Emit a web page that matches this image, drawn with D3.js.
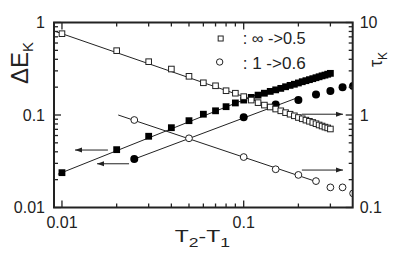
<!DOCTYPE html>
<html>
<head>
<meta charset="utf-8">
<script src="https://cdn.jsdelivr.net/npm/d3@7"></script>
<style>
  body { margin: 0; background: #fff; }
  svg { display: block; font-family: "Liberation Sans", Arial, sans-serif; }
</style>
</head>
<body>
<svg id="chart" width="409" height="260"></svg>
<script>
// T2-T1 values for the dense runs (squares) and the sparse runs (circles)
var tSquares = [0.01, 0.02, 0.03, 0.04, 0.05, 0.06, 0.07, 0.08, 0.09, 0.10, 0.11, 0.12,
    0.13, 0.14, 0.15, 0.16, 0.17, 0.18, 0.19, 0.20, 0.21, 0.22, 0.23, 0.24, 0.25,
    0.26, 0.27, 0.28, 0.29, 0.30];
var tCircles = [0.025, 0.05, 0.1, 0.15, 0.2, 0.25, 0.3, 0.35, 0.4];
var tCirclesFilled = [0.025, 0.1, 0.15, 0.2, 0.25, 0.3, 0.35, 0.4];

// tau_K (right axis), open squares  : inf -> 0.5
var tauSquares = [7.57, 4.96, 3.77, 3.14, 2.62, 2.23, 2.07, 1.83, 1.72, 1.58, 1.45, 1.36,
    1.28, 1.22, 1.16, 1.11, 1.06, 1.02, 0.98, 0.94, 0.91, 0.88, 0.855, 0.83, 0.805,
    0.78, 0.76, 0.74, 0.725, 0.706];
// delta E_K (left axis), filled squares
var dESquares = [0.0238, 0.0422, 0.0589, 0.0729, 0.0868, 0.102, 0.111, 0.123, 0.135, 0.145, 0.155, 0.164,
    0.172, 0.180, 0.187, 0.194, 0.202, 0.209, 0.215, 0.222, 0.229, 0.235, 0.241, 0.247, 0.253,
    0.259, 0.265, 0.270, 0.276, 0.282];
// tau_K (right axis), open circles  : 1 -> 0.6
var tauCircles = [0.883, 0.56, 0.351, 0.259, 0.225, 0.193, 0.165, 0.165, 0.142];
// delta E_K (left axis), filled circles
var dECircles = [0.0334, 0.0944, 0.13, 0.145, 0.167, 0.182, 0.2, 0.206];

// power-law fit lines: [t, value] end points
var fitTauSquares = [[0.009, 8.13], [0.15, 1.20]];
var fitDESquares = [[0.0095, 0.0229], [0.12, 0.168]];
var fitTauCircles = [[0.0204, 1.0], [0.25, 0.191]];
var fitDECircles = [[0.025, 0.0334], [0.2, 0.155]];

// arrows: t from, t to, value, axis
var arrows = [
    {t0: 0.0179, t1: 0.0118, v: 0.0418, axis: "left"},
    {t0: 0.0234, t1: 0.0156, v: 0.0297, axis: "left"},
    {t0: 0.209, t1: 0.352, v: 1.02, axis: "right"},
    {t0: 0.209, t1: 0.352, v: 0.254, axis: "right"}
];

var xTickLabels = ["0.01", "0.1"];
var leftTickLabels = ["0.01", "0.1", "1"];
var rightTickLabels = ["0.1", "1", "10"];
var legendLabels = [": \u221E ->0.5", ": 1 ->0.6"];

var svg = d3.select("#chart");
const margin = {top: 22.5, right: 56.3, bottom: 52.5, left: 54};
const width = 409 - margin.left - margin.right;
const height = 260 - margin.top - margin.bottom;
const ink = "#222";

var x = d3.scaleLog().domain([0.00904, 0.398]).range([0, width]);
var yL = d3.scaleLog().domain([0.01, 1]).range([height, 0]);
var yR = d3.scaleLog().domain([0.1, 10]).range([height, 0]);

var g = svg.append("g").attr("transform", "translate(" + margin.left + "," + margin.top + ")");

svg.append("defs").append("clipPath").attr("id", "plotclip")
    .append("rect").attr("width", width).attr("height", height);
svg.select("defs").append("marker")
    .attr("id", "head").attr("viewBox", "0 0 10 10")
    .attr("refX", 10).attr("refY", 5)
    .attr("markerWidth", 7).attr("markerHeight", 7)
    .attr("markerUnits", "userSpaceOnUse")
    .attr("orient", "auto")
    .append("path").attr("d", "M0,1.5L10,5L0,8.5Z").attr("fill", ink);

var plot = g.append("g").attr("clip-path", "url(#plotclip)");

function minors(lo, hi) {
    var out = [];
    for (var e = lo; e < hi; e++) {
        for (var k = 1; k < 10; k++) out.push(k * Math.pow(10, e));
    }
    return out;
}

// axes: all ticks point inward
var xt = minors(-2, 0).filter(function(v) { return v >= 0.00904 && v <= 0.398; });
var yLt = minors(-2, 0).concat([1]);
var yRt = minors(-1, 1).concat([10]);
function isMajor(v) { return Math.abs(Math.log10(v) - Math.round(Math.log10(v))) < 1e-6; }

var ticks = g.append("g").attr("stroke", ink).attr("stroke-width", 1.3);
ticks.selectAll(".xb").data(xt).enter().append("line")
    .attr("x1", function(d) { return x(d); }).attr("x2", function(d) { return x(d); })
    .attr("y1", height).attr("y2", function(d) { return height - (isMajor(d) ? 7 : 4); });
ticks.selectAll(".xt").data(xt).enter().append("line")
    .attr("x1", function(d) { return x(d); }).attr("x2", function(d) { return x(d); })
    .attr("y1", 0).attr("y2", function(d) { return isMajor(d) ? 7 : 4; });
ticks.selectAll(".yl").data(yLt).enter().append("line")
    .attr("y1", function(d) { return yL(d); }).attr("y2", function(d) { return yL(d); })
    .attr("x1", 0).attr("x2", function(d) { return isMajor(d) ? 7 : 4; });
ticks.selectAll(".yr").data(yRt).enter().append("line")
    .attr("y1", function(d) { return yR(d); }).attr("y2", function(d) { return yR(d); })
    .attr("x1", width).attr("x2", function(d) { return width - (isMajor(d) ? 7 : 4); });

g.append("rect").attr("width", width).attr("height", height)
    .attr("fill", "none").attr("stroke", ink).attr("stroke-width", 2);

var labels = g.append("g").attr("fill", ink).attr("font-size", 16);
labels.selectAll(".xl").data(xTickLabels).enter().append("text")
    .attr("x", function(d) { return x(+d); }).attr("y", height + 20.5)
    .attr("text-anchor", "middle").text(function(d) { return d; });
labels.selectAll(".yll").data(leftTickLabels).enter().append("text")
    .attr("x", -9).attr("y", function(d) { return yL(+d); }).attr("dy", "0.36em")
    .attr("text-anchor", "end").text(function(d) { return d; });
labels.selectAll(".yrl").data(rightTickLabels).enter().append("text")
    .attr("x", 7).attr("y", function(d) { return yR(+d); }).attr("dy", "0.36em")
    .attr("transform", "translate(" + width + ",0)")
    .attr("text-anchor", "start").text(function(d) { return d; });

// axis titles
var xTitle = g.append("text")
    .attr("transform", "translate(" + (width / 2 - 1) + "," + (height + 34.5) + ") scale(1.35,1)")
    .attr("text-anchor", "middle").attr("font-size", 17).attr("fill", ink);
xTitle.append("tspan").text("T");
xTitle.append("tspan").attr("font-size", 13).attr("dy", 5).text("2");
xTitle.append("tspan").attr("dy", -5).text("-T");
xTitle.append("tspan").attr("font-size", 13).attr("dy", 5).text("1");

var yTitle = g.append("text").attr("transform", "translate(-26.5,61.5) rotate(-90)")
    .attr("text-anchor", "start").attr("font-size", 24).attr("fill", ink);
yTitle.append("tspan").text("\u0394E");
yTitle.append("tspan").attr("font-size", 15).attr("dy", 5.5).text("K");

var rTitle = g.append("text").attr("transform", "translate(" + (width + 29) + ",44.5) rotate(-90)")
    .attr("text-anchor", "start").attr("font-size", 18).attr("fill", ink);
rTitle.append("tspan").text("\u03C4");
rTitle.append("tspan").attr("font-size", 12).attr("dy", 5).text("K");

// fit lines
var line = function(ys) {
    return d3.line().x(function(d) { return x(d[0]); }).y(function(d) { return ys(d[1]); });
};
[[fitTauSquares, yR], [fitDESquares, yL], [fitTauCircles, yR], [fitDECircles, yL]].forEach(function(f) {
    plot.append("path").datum(f[0]).attr("d", line(f[1]))
        .attr("fill", "none").attr("stroke", ink).attr("stroke-width", 1);
});

// arrows
g.selectAll(".arrow").data(arrows).enter().append("line")
    .attr("x1", function(d) { return x(d.t0); }).attr("x2", function(d) { return x(d.t1); })
    .attr("y1", function(d) { return (d.axis === "left" ? yL : yR)(d.v); })
    .attr("y2", function(d) { return (d.axis === "left" ? yL : yR)(d.v); })
    .attr("stroke", ink).attr("stroke-width", 1).attr("marker-end", "url(#head)");

// markers
var sq = 6.8;
plot.selectAll(".fsq").data(d3.zip(tSquares, dESquares)).enter().append("rect")
    .attr("x", function(d) { return x(d[0]) - sq / 2; }).attr("y", function(d) { return yL(d[1]) - sq / 2; })
    .attr("width", sq).attr("height", sq).attr("fill", "#000");
plot.selectAll(".fci").data(d3.zip(tCirclesFilled, dECircles)).enter().append("circle")
    .attr("cx", function(d) { return x(d[0]); }).attr("cy", function(d) { return yL(d[1]); })
    .attr("r", 4).attr("fill", "#000");
plot.selectAll(".osq").data(d3.zip(tSquares, tauSquares)).enter().append("rect")
    .attr("x", function(d) { return x(d[0]) - 2.8; }).attr("y", function(d) { return yR(d[1]) - 2.8; })
    .attr("width", 5.6).attr("height", 5.6).attr("fill", "#fff").attr("stroke", ink).attr("stroke-width", 1);
plot.selectAll(".oci").data(d3.zip(tCircles, tauCircles)).enter().append("circle")
    .attr("cx", function(d) { return x(d[0]); }).attr("cy", function(d) { return yR(d[1]); })
    .attr("r", 3.4).attr("fill", "#fff").attr("stroke", ink).attr("stroke-width", 1);

// legend
var legend = g.append("g").attr("transform", "translate(" + x(0.0747) + ",16)");
legend.append("rect").attr("x", -2.5).attr("y", -2.5).attr("width", 5).attr("height", 5)
    .attr("fill", "#fff").attr("stroke", ink).attr("stroke-width", 1);
legend.append("circle").attr("cx", -1).attr("cy", 23.5).attr("r", 3.2)
    .attr("fill", "#fff").attr("stroke", ink).attr("stroke-width", 1);
legend.selectAll("text").data(legendLabels).enter().append("text")
    .attr("x", 22).attr("y", function(d, i) { return 5 + i * 25; })
    .attr("textLength", 63).attr("lengthAdjust", "spacingAndGlyphs")
    .attr("font-size", 16).attr("fill", ink).text(function(d) { return d; });
</script>
</body>
</html>
